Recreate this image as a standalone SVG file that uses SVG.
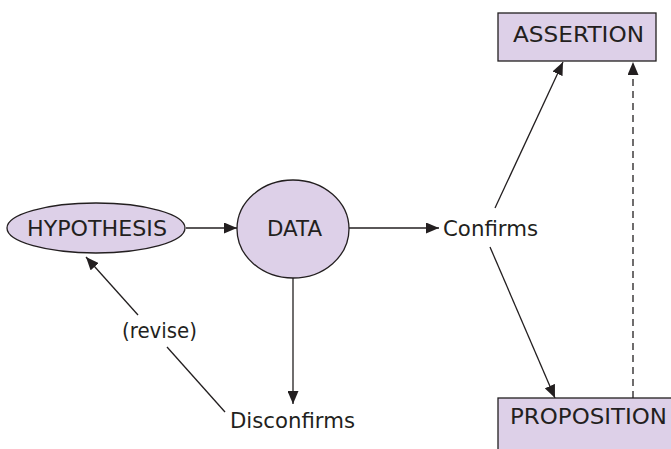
<svg xmlns="http://www.w3.org/2000/svg" width="671" height="449" viewBox="0 0 671 449">
<style>
.node{fill:#ddd0e8;stroke:#231f20;stroke-width:1.3}
.t{font-family:"DejaVu Sans",sans-serif;font-size:22px;fill:#231f20;text-anchor:middle}
.c{stroke:#231f20;stroke-width:1.3;fill:none}
.dash{stroke-dasharray:7 5}
</style>
<defs>
<marker id="ah" viewBox="0 0 13 11" refX="13" refY="5.5" markerWidth="13" markerHeight="11" markerUnits="userSpaceOnUse" orient="auto">
<path d="M0,0 L13,5.5 L0,11 Z" fill="#231f20"/>
</marker>
</defs>
<rect width="671" height="449" fill="#ffffff"/>
<g id="connectors">
<line class="c" x1="186" y1="228" x2="237" y2="228" marker-end="url(#ah)"/>
<line class="c" x1="349" y1="228" x2="439" y2="228" marker-end="url(#ah)"/>
<line class="c" x1="495" y1="208" x2="563" y2="62" marker-end="url(#ah)"/>
<line class="c" x1="490" y1="247" x2="555" y2="398" marker-end="url(#ah)"/>
<line class="c dash" x1="633" y1="398" x2="633" y2="62" marker-end="url(#ah)"/>
<line class="c" x1="293" y1="278" x2="293" y2="404" marker-end="url(#ah)"/>
<line class="c" x1="225" y1="412" x2="167" y2="347"/>
<line class="c" x1="138" y1="315" x2="86" y2="257" marker-end="url(#ah)"/>
<text class="t" x="159.5" y="338" textLength="75" lengthAdjust="spacingAndGlyphs">(revise)</text>
</g>
<g id="hypothesis">
<ellipse class="node" cx="96" cy="228" rx="89" ry="25"/>
<text class="t" x="97" y="235.5" textLength="140" lengthAdjust="spacingAndGlyphs">HYPOTHESIS</text>
</g>
<g id="data">
<ellipse class="node" cx="293" cy="229" rx="56" ry="49"/>
<text class="t" x="294.5" y="235.5" textLength="55" lengthAdjust="spacingAndGlyphs">DATA</text>
</g>
<g id="confirms">
<text class="t" x="490.5" y="235.5" textLength="95" lengthAdjust="spacingAndGlyphs">Confirms</text>
</g>
<g id="disconfirms">
<text class="t" x="292.5" y="427.5" textLength="125" lengthAdjust="spacingAndGlyphs">Disconfirms</text>
</g>
<g id="assertion">
<rect class="node" x="498" y="13" width="158" height="48"/>
<text class="t" x="578.5" y="41.5" textLength="131" lengthAdjust="spacingAndGlyphs">ASSERTION</text>
</g>
<g id="proposition">
<rect class="node" x="498" y="398" width="190" height="70"/>
<text class="t" x="588.5" y="423.5" textLength="157" lengthAdjust="spacingAndGlyphs">PROPOSITION</text>
</g>
</svg>
